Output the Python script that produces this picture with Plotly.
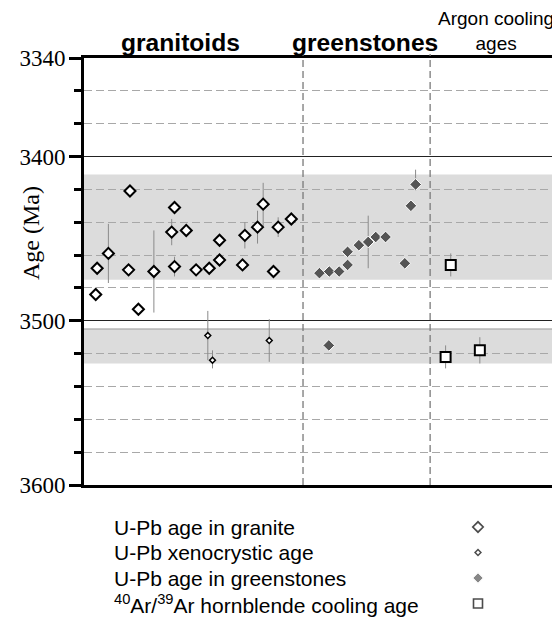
import plotly.graph_objects as go

# ---------------- data (x = sample position along the section, age in Ma) ----------------
gran_x = [2.5, 2.8, 5.2, 9.5, 9.8, 11.6, 14.9, 18.7, 19.3, 19.3, 21.8, 23.9, 26.7, 28.9, 28.9,
          33.8, 34.3, 37.0, 38.2, 40.4, 41.4, 44.2]
gran_age = [3484, 3468, 3459, 3469, 3421, 3493, 3470, 3446, 3431, 3467, 3445, 3469, 3468, 3451, 3463,
            3466, 3448, 3443, 3429, 3470, 3443, 3438]
gran_err_plus = [0, 0, 18, 0, 0, 0, 25, 8, 0, 6, 0, 0, 0, 0, 0, 0, 8, 10, 14, 0, 6, 0]
gran_err_minus = [0, 0, 18, 0, 0, 0, 25, 8, 0, 6, 0, 0, 0, 0, 0, 0, 8, 10, 13, 0, 6, 0]

xeno_x = [26.4, 27.4, 39.5]
xeno_age = [3509, 3524, 3512]
xeno_err_plus = [15, 5, 13]
xeno_err_minus = [15, 6, 13]

green_x = [50.2, 52.2, 52.3, 54.4, 56.2, 56.2, 58.6, 60.6, 62.2, 64.3, 68.4, 69.7, 70.7]
green_age = [3471, 3515, 3470, 3470, 3466, 3458, 3454, 3452, 3449, 3449, 3465, 3430, 3417]
green_err_plus = [0, 0, 0, 0, 0, 0, 0, 16, 0, 0, 0, 0, 4]
green_err_minus = [0, 0, 0, 0, 0, 0, 0, 16, 0, 0, 0, 0, 9]

argon_x = [77.1, 78.2, 84.4]
argon_age = [3522, 3466, 3518]
argon_err = [7, 7, 8]

bands = [(3411, 3475), (3505, 3526)]        # shaded age intervals (Ma)
group_bounds = [46.7, 73.8]                 # dividers between sample groups
group_names = ["granitoids", "greenstones", "Argon cooling<br>ages"]
group_centers = [20.5, 60.0, 87.9]

y_ticks = [3340, 3400, 3500, 3600]
legend_labels = ["U-Pb age in granite", "U-Pb xenocrystic age", "U-Pb age in greenstones",
                 "<sup>40</sup>Ar/<sup>39</sup>Ar hornblende cooling age"]

SANS = "Liberation Sans, Arial, sans-serif"
SERIF = "Liberation Serif, Times New Roman, serif"
ERRC = "#8a8a8a"

# page body has an 8px margin: lay out in window pixels minus that offset
OFF = 8
W, H = 552, 612
ML, MR, MT, MB = 84 - OFF, W - (553 - OFF), 58 - OFF, 0
pw, ph = W - ML - MR, H - MT - MB

def py(win_y):          # window pixel y -> paper y
    return (H - MB - (win_y - OFF)) / ph

def px(win_x):          # window pixel x -> paper x
    return (win_x - OFF - ML) / pw

fig = go.Figure()

def eb(plus, minus):
    return dict(type="data", array=plus, arrayminus=minus, color=ERRC, thickness=1, width=0)

fig.add_trace(go.Scatter(x=gran_x, y=gran_age, mode="markers",
                         error_y=eb(gran_err_plus, gran_err_minus),
                         marker=dict(symbol="diamond", size=8.5, color="white",
                                     line=dict(color="black", width=2))))
fig.add_trace(go.Scatter(x=xeno_x, y=xeno_age, mode="markers",
                         error_y=eb(xeno_err_plus, xeno_err_minus),
                         marker=dict(symbol="diamond", size=4.5, color="white",
                                     line=dict(color="black", width=1.5))))
fig.add_trace(go.Scatter(x=green_x, y=green_age, mode="markers",
                         error_y=eb(green_err_plus, green_err_minus),
                         marker=dict(symbol="diamond", size=9, color="#555555",
                                     line=dict(color="white", width=1))))
fig.add_trace(go.Scatter(x=argon_x, y=argon_age, mode="markers",
                         error_y=eb(argon_err, argon_err),
                         marker=dict(symbol="square", size=10, color="white",
                                     line=dict(color="black", width=2))))

# legend markers on a separate hidden axis
leg_pos = [3, 2, 1, 0]
fig.add_trace(go.Scatter(x=[px(478)] * 4, y=leg_pos, mode="markers", xaxis="x2", yaxis="y2",
                         marker=dict(symbol=["diamond", "diamond", "diamond", "square"],
                                     size=[8, 4.5, 8, 9],
                                     color=["white", "white", "#555555", "white"],
                                     line=dict(color=["black", "black", "white", "black"],
                                               width=[1.7, 1.5, 1, 1.6]))))

shapes = []
for lo, hi in bands:
    shapes.append(dict(type="rect", xref="x domain", yref="y", x0=0, x1=1, y0=lo, y1=hi,
                       fillcolor="#dcdcdc", line=dict(width=0), layer="below"))
shapes.append(dict(type="line", xref="x domain", yref="y", x0=0, x1=1,
                   y0=bands[1][0], y1=bands[1][0], line=dict(color="#9a9a9a", width=1),
                   layer="below"))
for gx in group_bounds:
    shapes.append(dict(type="line", xref="x", yref="paper", x0=gx, x1=gx, y0=py(485), y1=py(54),
                       line=dict(color="#7a7a7a", width=1.3, dash="7px,4px"), layer="above"))

annotations = []
for name, cx in zip(group_names, group_centers):
    if "<br>" in name:
        annotations.append(dict(text=name, x=cx, y=py(31), xref="x", yref="paper",
                                showarrow=False, font=dict(family=SANS, size=19, color="black"),
                                xanchor="center", yanchor="middle"))
    else:
        annotations.append(dict(text="<b>" + name + "</b>", x=cx, y=py(43),
                                xref="x", yref="paper",
                                showarrow=False, font=dict(family=SANS, size=24.6, color="black"),
                                xanchor="center", yanchor="middle"))
annotations.append(dict(text="Age (Ma)", x=px(31), y=py(233),
                        xref="paper", yref="paper", xanchor="center", yanchor="middle",
                        showarrow=False, textangle=-90,
                        font=dict(family=SERIF, size=24, color="black")))
for lab, p in zip(legend_labels, leg_pos):
    annotations.append(dict(text=lab, x=px(112), y=p, xref="x2", yref="y2",
                            showarrow=False, xanchor="left", yanchor="middle",
                            font=dict(family=SANS, size=21, color="black")))

# legend axis: row p sits at window y = 603.5 - 25.5 * p
y2_top, y2_bot = 508, 620
r_lo = (603.5 - y2_bot) / 25.5
r_hi = (603.5 - y2_top) / 25.5

fig.update_layout(
    template="none",
    width=W, height=H, margin=dict(l=ML, r=MR, t=MT, b=MB, autoexpand=False),
    paper_bgcolor="white", plot_bgcolor="white", showlegend=False,
    shapes=shapes, annotations=annotations,
    xaxis=dict(range=[0, 100], showticklabels=False, ticks="", showgrid=False, zeroline=False,
               showline=True, linecolor="black", linewidth=3, mirror=True, anchor="y",
               automargin=False),
    yaxis=dict(range=[3600, 3340], domain=[py(485), 1], tickmode="array",
               tickvals=y_ticks, automargin=False,
               ticktext=[str(v) for v in y_ticks], ticks="outside", ticklen=12, tickwidth=3,
               ticklabelstandoff=-1,
               tickcolor="black", tickfont=dict(family=SERIF, size=23, color="black"),
               showgrid=True, gridcolor="#222222", gridwidth=1.2, zeroline=False,
               showline=True, linecolor="black", linewidth=3, mirror=True,
               minor=dict(tick0=3340, dtick=20, ticks="outside", ticklen=7, tickwidth=3,
                          tickcolor="black", showgrid=True, gridcolor="#a8a8a8",
                          gridwidth=1, griddash="8px,4px")),
    xaxis2=dict(domain=[0, 1], range=[0, 1], visible=False, anchor="y2", automargin=False),
    yaxis2=dict(domain=[max(0.0, py(y2_bot)), min(1.0, py(y2_top))], range=[r_lo, r_hi],
                visible=False, anchor="x2", automargin=False),
)

fig.write_html("out.html")
